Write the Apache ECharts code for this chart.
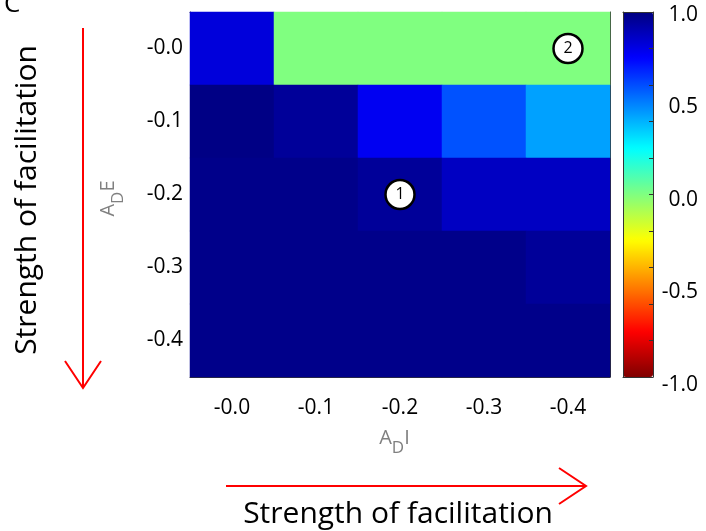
<!DOCTYPE html>
<html><head><meta charset="utf-8">
<script src="https://cdn.jsdelivr.net/npm/echarts@6/dist/echarts.min.js"></script>
<style>html,body{margin:0;padding:0;background:#fff}#c{width:706px;height:531px}</style>
</head><body><div id="c"></div>
<script>
// ---- data ----
const xCategories = ['-0.0', '-0.1', '-0.2', '-0.3', '-0.4'];   // A_D I
const yCategories = ['-0.0', '-0.1', '-0.2', '-0.3', '-0.4'];   // A_D E (top to bottom)
// one array per row (y category), values per x category
const rowE00 = [0.82, 0.0, 0.0, 0.0, 0.0];
const rowE01 = [0.99, 0.95, 0.775, 0.59, 0.435];
const rowE02 = [0.98, 0.98, 0.95, 0.87, 0.87];
const rowE03 = [0.98, 0.98, 0.98, 0.98, 0.95];
const rowE04 = [0.98, 0.98, 0.98, 0.98, 0.98];
const rows = [rowE00, rowE01, rowE02, rowE03, rowE04];
// marked cells: [x index, y index, label]
const markers = [[2, 2, '1'], [4, 0, '2']];
const colorMin = -1, colorMax = 1;
const colorbarLabelInterval = 0.5;
const colorbarTickInterval = 0.2;
const jetColors = ['#800000', '#ff0000', '#ff8000', '#ffff00', '#80ff80', '#00ffff', '#0080ff', '#0000ff', '#000080'];
const facilitationLabel = 'Strength of facilitation';
const panelLabel = 'C';

const heatData = [];
rows.forEach((row, yi) => row.forEach((v, xi) => heatData.push([xi, yi, v])));

const FONT = '"Open Sans", "Noto Sans", sans-serif';
const frameColor = '#333';
const nameRich = {
  a: {fontSize: 20, color: '#808080', fontFamily: FONT},
  s: {fontSize: 17, color: '#808080', fontFamily: FONT, padding: [20, 0, 0, 0]}
};

const chart = echarts.init(document.getElementById('c'), null, {renderer: 'canvas'});
const catAxisCommon = {
  type: 'category',
  axisLine: {show: true, onZero: false, lineStyle: {color: frameColor, width: 1}},
  axisTick: {show: true, inside: true, alignWithLabel: true, length: 4, lineStyle: {color: frameColor}},
  splitLine: {show: false}
};
const frameValueAxis = (extra) => Object.assign({
  type: 'value', min: colorMin, max: colorMax, z: 6,
  axisLine: {show: true, onZero: false, lineStyle: {color: frameColor, width: 1}},
  axisTick: {show: false}, axisLabel: {show: false}, splitLine: {show: false}
}, extra);

const option = {
  backgroundColor: '#fff',
  animation: false,
  textStyle: {fontFamily: FONT},
  grid: [
    {left: 190, top: 12, width: 420, height: 365},
    {left: 623, top: 12, width: 30, height: 365},
    {left: 623, top: 15, width: 30, height: 370}
  ],
  xAxis: [
    Object.assign({}, catAxisCommon, {
      gridIndex: 0, position: 'bottom', data: xCategories,
      axisLabel: {fontSize: 21, color: '#000', margin: 21, fontFamily: FONT},
      name: '{a|A}{s|D}{a|I}', nameLocation: 'middle', nameGap: 43,
      nameTextStyle: {rich: nameRich, padding: [0, 11, 0, 0]}
    }),
    Object.assign({}, catAxisCommon, {
      gridIndex: 0, position: 'top', data: xCategories, axisLabel: {show: false}
    }),
    frameValueAxis({gridIndex: 1, position: 'bottom'}),
    frameValueAxis({gridIndex: 1, position: 'top'}),
    {gridIndex: 2, type: 'value', show: false, min: colorMin, max: colorMax}
  ],
  yAxis: [
    Object.assign({}, catAxisCommon, {
      gridIndex: 0, position: 'left', inverse: true, data: yCategories,
      axisLabel: {fontSize: 21, color: '#000', margin: 7, fontFamily: FONT},
      name: '{a|A}{s|D}{a|E}', nameLocation: 'middle', nameGap: 63,
      nameTextStyle: {rich: nameRich, padding: [0, 8, 0, 0]}
    }),
    Object.assign({}, catAxisCommon, {
      gridIndex: 0, position: 'right', inverse: true, data: yCategories, axisLabel: {show: false}
    }),
    frameValueAxis({gridIndex: 1, position: 'left'}),
    frameValueAxis({gridIndex: 1, position: 'right', interval: colorbarTickInterval,
      axisTick: {show: true, inside: true, length: 4, lineStyle: {color: frameColor}}}),
    {
      gridIndex: 2, type: 'value', position: 'right', min: colorMin, max: colorMax, interval: colorbarLabelInterval,
      axisLine: {show: false}, axisTick: {show: false}, splitLine: {show: false},
      axisLabel: {show: true, fontSize: 21, color: '#000', align: 'right', margin: 45, fontFamily: FONT,
        formatter: v => v.toFixed(1)}
    }
  ],
  visualMap: {
    type: 'continuous', min: colorMin, max: colorMax, seriesIndex: 0,
    calculable: false, orient: 'vertical', left: 623, top: 12, padding: 0,
    itemWidth: 30, itemHeight: 365, text: null, hoverLink: false,
    inRange: {color: jetColors}
  },
  series: [
    {
      type: 'heatmap', xAxisIndex: 0, yAxisIndex: 0, data: heatData,
      emphasis: {disabled: true}, progressive: 0, itemStyle: {borderWidth: 0}
    },
    {
      type: 'scatter', xAxisIndex: 0, yAxisIndex: 0, z: 10,
      data: markers.map(m => ({value: [m[0], m[1]], name: m[2]})),
      symbol: 'circle', symbolSize: 29,
      itemStyle: {color: '#fff', borderColor: '#000', borderWidth: 2.5, opacity: 1},
      label: {show: true, position: 'inside', formatter: '{b}', color: '#000', fontSize: 16, fontFamily: FONT},
      emphasis: {disabled: true}, silent: true
    }
  ],
  graphic: [
    {type: 'text', x: 4, y: 5, style: {text: panelLabel, font: '26px ' + FONT, fill: '#000',
      align: 'left', verticalAlign: 'middle', textAlign: 'left', textVerticalAlign: 'middle'}},
    {type: 'text', x: 27, y: 200, rotation: Math.PI / 2, style: {text: facilitationLabel, font: '30px ' + FONT, fill: '#000',
      align: 'center', verticalAlign: 'middle', textAlign: 'center', textVerticalAlign: 'middle'}},
    {type: 'text', x: 398, y: 514, style: {text: facilitationLabel, font: '30px ' + FONT, fill: '#000',
      align: 'center', verticalAlign: 'middle', textAlign: 'center', textVerticalAlign: 'middle'}},
    {type: 'line', shape: {x1: 83, y1: 28, x2: 83, y2: 387}, style: {stroke: '#ff0000', lineWidth: 2}},
    {type: 'polyline', shape: {points: [[65, 361], [83, 388], [101, 361]]}, style: {stroke: '#ff0000', lineWidth: 2, fill: null}},
    {type: 'line', shape: {x1: 226, y1: 486, x2: 585, y2: 486}, style: {stroke: '#ff0000', lineWidth: 2}},
    {type: 'polyline', shape: {points: [[559, 468], [586, 486], [559, 504]]}, style: {stroke: '#ff0000', lineWidth: 2, fill: null}}
  ]
};
chart.setOption(option);
</script>
</body></html>
